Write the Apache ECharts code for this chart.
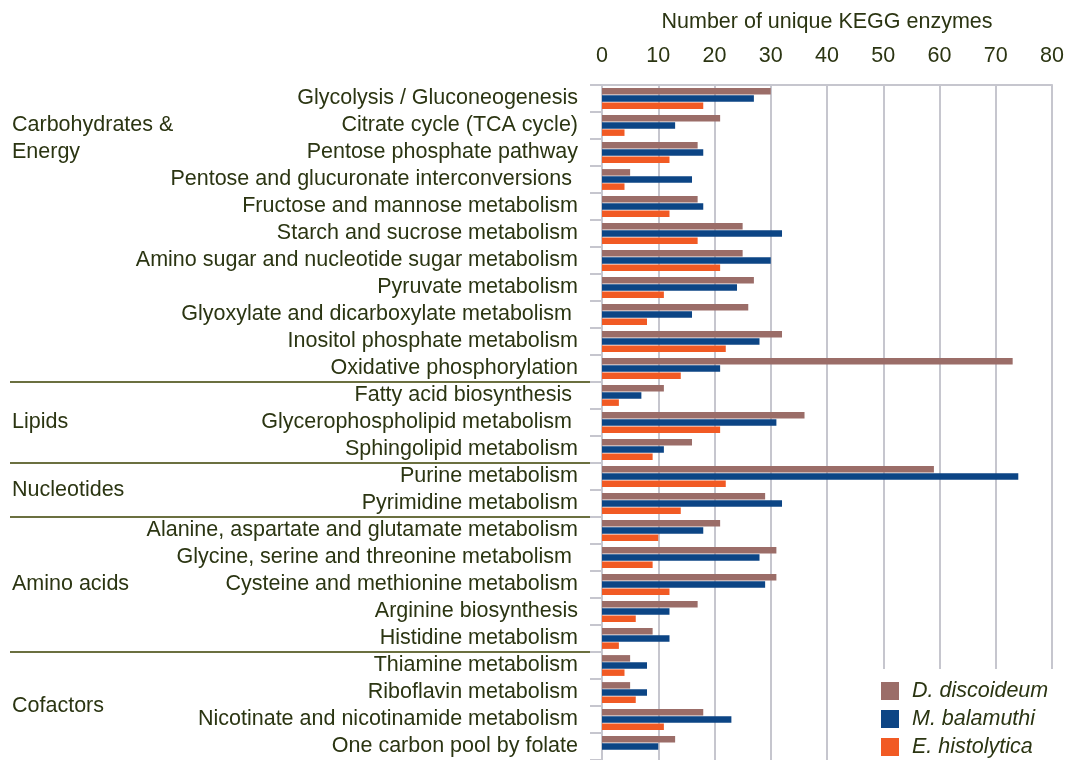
<!DOCTYPE html>
<html style="height: 100%">
<head>
    <meta charset="utf-8">
    <script src="https://cdn.jsdelivr.net/npm/echarts@6/dist/echarts.min.js"></script>
</head>
<body style="height:100%;margin:0;background:#fff">
    <div id="main" style="width:1067px;height:760px;"></div>
    <script type="text/javascript">

        // pathways, top to bottom
        var categories = [
            'Glycolysis / Gluconeogenesis',
            'Citrate cycle (TCA cycle)',
            'Pentose phosphate pathway',
            'Pentose and glucuronate interconversions ',
            'Fructose and mannose metabolism',
            'Starch and sucrose metabolism',
            'Amino sugar and nucleotide sugar metabolism',
            'Pyruvate metabolism',
            'Glyoxylate and dicarboxylate metabolism ',
            'Inositol phosphate metabolism',
            'Oxidative phosphorylation',
            'Fatty acid biosynthesis ',
            'Glycerophospholipid metabolism ',
            'Sphingolipid metabolism',
            'Purine metabolism',
            'Pyrimidine metabolism',
            'Alanine, aspartate and glutamate metabolism',
            'Glycine, serine and threonine metabolism ',
            'Cysteine and methionine metabolism',
            'Arginine biosynthesis',
            'Histidine metabolism',
            'Thiamine metabolism',
            'Riboflavin metabolism',
            'Nicotinate and nicotinamide metabolism',
            'One carbon pool by folate'
        ];
        var dDiscoideum = [30, 21, 17, 5, 17, 25, 25, 27, 26, 32, 73, 11, 36, 16, 59, 29, 21, 31, 31, 17, 9, 5, 5, 18, 13];
        var mBalamuthi  = [27, 13, 18, 16, 18, 32, 30, 24, 16, 28, 21, 7, 31, 11, 74, 32, 18, 28, 29, 12, 12, 8, 8, 23, 10];
        var eHistolytica = [18, 4, 12, 4, 12, 17, 21, 11, 8, 22, 14, 3, 21, 9, 22, 14, 10, 9, 12, 6, 3, 4, 6, 11, 0];
        var seriesNames = ['D. discoideum', 'M. balamuthi', 'E. histolytica'];

        // group labels: last row index of each group, row where the label sits
        var groupNames = ['Carbohydrates &\nEnergy', 'Lipids', 'Nucleotides', 'Amino acids', 'Cofactors'];
        var groupLastRow = [10, 13, 15, 20, 24];
        var groupLabelRow = [1.5, 12, 14.5, 18, 22.5];

        var txt = '#2b3512';
        var gridCol = '#c6c6ce';
        var font = 'Liberation Sans, Arial, sans-serif';

        var myChart = echarts.init(document.getElementById('main'));

        option = {
            animation: false,
            backgroundColor: '#fff',
            textStyle: { fontFamily: font },
            color: ['#9b6d68', '#0c4585', '#f15a24'],
            grid: { left: 602, right: 14, top: 85, bottom: -3 },
            legend: {
                orient: 'vertical',
                left: 869,
                bottom: 0,
                padding: [11, 30, 2, 12],
                backgroundColor: '#fff',
                icon: 'rect',
                itemWidth: 18,
                itemHeight: 18,
                itemGap: 6,
                data: seriesNames,
                textStyle: { fontSize: 21.5, lineHeight: 18, fontStyle: 'italic', color: txt, padding: [0, 0, 0, 8] }
            },
            xAxis: {
                type: 'value',
                position: 'top',
                min: 0,
                max: 80,
                interval: 10,
                name: 'Number of unique KEGG enzymes',
                nameLocation: 'middle',
                nameGap: 52,
                nameTextStyle: { fontSize: 21.5, color: txt },
                axisLine: { show: true, lineStyle: { color: gridCol, width: 2 } },
                axisTick: { show: false },
                axisLabel: { fontSize: 21.5, color: txt, margin: 18 },
                splitLine: { lineStyle: { color: gridCol, width: 2 } }
            },
            yAxis: {
                type: 'category',
                inverse: true,
                data: categories,
                axisLine: { show: true, lineStyle: { color: gridCol, width: 2 } },
                axisTick: { show: true, length: 12, lineStyle: { color: gridCol, width: 2 } },
                axisLabel: { interval: 0, fontSize: 21.5, color: txt, margin: 24 }
            },
            series: [
                { name: seriesNames[0], type: 'bar', data: dDiscoideum, barWidth: 6.5, barGap: '10%' },
                { name: seriesNames[1], type: 'bar', data: mBalamuthi, barWidth: 6.5, barGap: '10%' },
                { name: seriesNames[2], type: 'bar', data: eHistolytica, barWidth: 6.5, barGap: '10%' }
            ]
        };
        myChart.setOption(option);

        // group labels and separators placed from the category axis
        var y0 = myChart.convertToPixel({ yAxisIndex: 0 }, categories[0]);
        var rowH = myChart.convertToPixel({ yAxisIndex: 0 }, categories[1]) - y0;
        var graphics = [];
        groupNames.forEach(function (g, i) {
            graphics.push({
                type: 'text',
                x: 12,
                y: y0 + groupLabelRow[i] * rowH,
                style: { text: g, fill: txt, font: '21.5px ' + font, verticalAlign: 'middle', lineHeight: 27 }
            });
            if (i < groupNames.length - 1) {
                var ys = y0 + (groupLastRow[i] + 0.5) * rowH;
                graphics.push({
                    type: 'line',
                    shape: { x1: 10, y1: ys, x2: 590, y2: ys },
                    style: { stroke: '#6b7040', lineWidth: 2 }
                });
            }
        });
        myChart.setOption({ graphic: graphics });
    </script>
</body>
</html>
